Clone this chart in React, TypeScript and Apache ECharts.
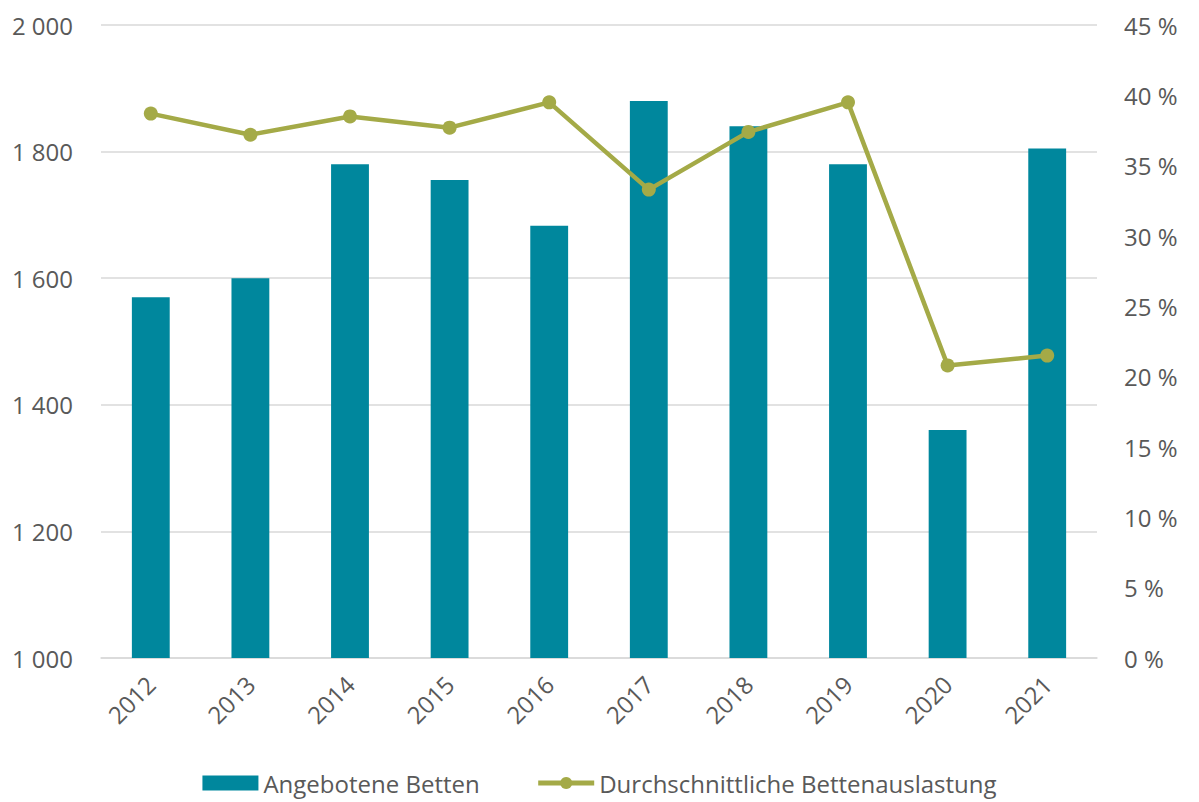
import React, { useEffect, useRef } from "react";
import * as echarts from "echarts";

const years = ["2012", "2013", "2014", "2015", "2016", "2017", "2018", "2019", "2020", "2021"];
const beds = [1570, 1600, 1780, 1755, 1683, 1880, 1840, 1780, 1360, 1805];
const occupancy = [38.7, 37.2, 38.5, 37.7, 39.5, 33.3, 37.4, 39.5, 20.8, 21.5];

const FONT = "'Open Sans', 'Noto Sans', sans-serif";
const TXT = "#595959";
const FS = 24;

const fmtThousands = (v: number) => String(v).replace(/\B(?=(\d{3})+(?!\d))/g, " ");

export default function App() {
  const ref = useRef<HTMLDivElement>(null);
  useEffect(() => {
    if (!ref.current) return;
    const chart = echarts.init(ref.current, undefined, { renderer: "svg" });
    chart.setOption({
      animation: false,
      backgroundColor: "#ffffff",
      grid: { left: 101, right: 102, top: 25, bottom: 144, containLabel: false },
      legend: {
        left: "center",
        top: 766,
        itemGap: 56,
        itemWidth: 56,
        itemHeight: 15,
        textStyle: { fontFamily: FONT, fontSize: FS, color: TXT },
        data: [
          { name: "Angebotene Betten", icon: "rect" },
          {
            name: "Durchschnittliche Bettenauslastung",
            lineStyle: { width: 5 },
          },
        ],
      },
      xAxis: {
        type: "category",
        data: years,
        axisLine: { show: true, lineStyle: { color: "#d9d9d9", width: 1.5 } },
        axisTick: { show: false },
        axisLabel: {
          rotate: 45,
          margin: 22,
          fontFamily: FONT,
          fontSize: FS,
          color: TXT,
        },
      },
      yAxis: [
        {
          type: "value",
          min: 1000,
          max: 2000,
          interval: 200,
          axisLine: { show: false },
          axisTick: { show: false },
          splitLine: { lineStyle: { color: "#d9d9d9", width: 1.5 } },
          axisLabel: {
            margin: 28,
            fontFamily: FONT,
            fontSize: FS,
            color: TXT,
            formatter: (v: number) => fmtThousands(v),
          },
        },
        {
          type: "value",
          min: 0,
          max: 45,
          interval: 5,
          axisLine: { show: false },
          axisTick: { show: false },
          splitLine: { show: false },
          axisLabel: {
            margin: 27,
            fontFamily: FONT,
            fontSize: FS,
            color: TXT,
            formatter: (v: number) => `${v} %`,
          },
        },
      ],
      series: [
        {
          name: "Angebotene Betten",
          type: "bar",
          data: beds,
          barWidth: "38%",
          itemStyle: { color: "#00879D" },
          yAxisIndex: 0,
        },
        {
          name: "Durchschnittliche Bettenauslastung",
          type: "line",
          data: occupancy,
          yAxisIndex: 1,
          symbol: "circle",
          symbolSize: 14,
          lineStyle: { color: "#A4AA47", width: 4.5 },
          itemStyle: { color: "#A4AA47" },
        },
      ],
    });
    return () => chart.dispose();
  }, []);
  return (
    <div
      ref={ref}
      style={{ position: "absolute", left: 0, top: 0, width: 1199, height: 802 }}
    />
  );
}
